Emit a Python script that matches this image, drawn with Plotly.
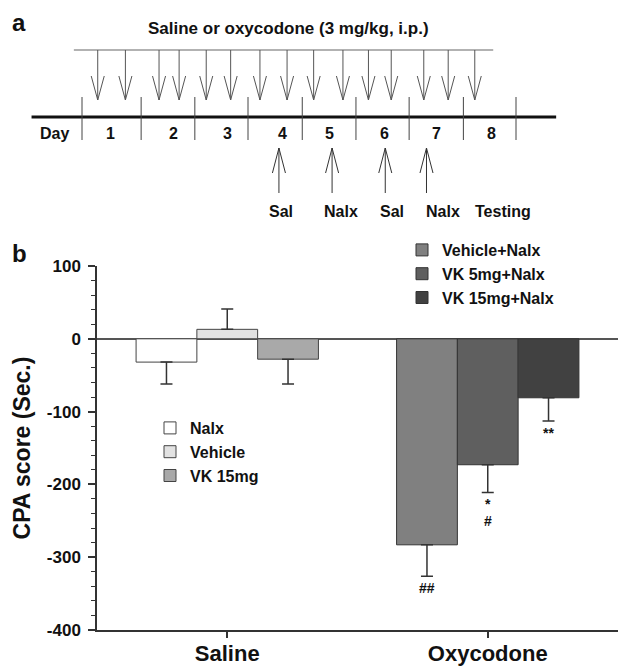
import plotly.graph_objects as go

# ---------------- panel b data ----------------
categories = ["Saline", "Oxycodone"]
saline_groups = ["Nalx", "Vehicle", "VK 15mg"]
saline_means = [-32, 13, -28]
saline_sem = [30, 28, 34]
oxy_groups = ["Vehicle+Nalx", "VK 5mg+Nalx", "VK 15mg+Nalx"]
oxy_means = [-283, -173, -81]
oxy_sem = [43, 38, 32]
oxy_sig = [["##"], ["*", "#"], ["**"]]
y_ticks = [100, 0, -100, -200, -300, -400]
y_ticktext = ["100", "0", "-100", "-200", "-300", "-400"]

saline_colors = ["#ffffff", "#e2e2e2", "#a9a9a9"]
oxy_colors = ["#808080", "#5f5f5f", "#414141"]

# ---------------- panel a schematic (days) ----------------
day_edges = [0, 1.09, 2.08, 3.06, 4.06, 5.05, 6.03, 7.03, 8.0]
day_numbers = ["1", "2", "3", "4", "5", "6", "7", "8"]
day_number_pos = [0.52, 1.68, 2.69, 3.69, 4.57, 5.57, 6.53, 7.54]
injection_times = [0.29, 0.80, 1.42, 1.79, 2.29, 2.74, 3.28, 3.78,
                   4.27, 4.81, 5.28, 5.70, 6.30, 6.75, 7.24]
challenge_times = [3.63, 4.61, 5.59, 6.35]
challenge_labels = ["Sal", "Nalx", "Sal", "Nalx", "Testing"]
challenge_label_pos = [3.67, 4.77, 5.71, 6.65, 7.76]
injection_span = [-0.15, 7.58]
timeline_span = [-0.93, 8.74]

FONT = "Liberation Sans, Arial, sans-serif"
W, H = 618, 666

fig = go.Figure()

# ---------- panel b bars ----------
for i, (g, m, e) in enumerate(zip(saline_groups, saline_means, saline_sem)):
    fig.add_trace(go.Bar(
        x=[categories[0]], y=[m], name=g, offsetgroup=str(i),
        marker=dict(color=saline_colors[i], line=dict(color="#444", width=1)),
        error_y=dict(type="data", symmetric=False,
                     array=[e if m > 0 else 0], arrayminus=[e if m < 0 else 0],
                     color="#333", thickness=1.5, width=6),
        legend="legend", hoverinfo="skip"))
for i, (g, m, e) in enumerate(zip(oxy_groups, oxy_means, oxy_sem)):
    fig.add_trace(go.Bar(
        x=[categories[1]], y=[m], name=g, offsetgroup=str(i),
        marker=dict(color=oxy_colors[i], line=dict(color="#333", width=1)),
        error_y=dict(type="data", symmetric=False,
                     array=[e if m > 0 else 0], arrayminus=[e if m < 0 else 0],
                     color="#333", thickness=1.5, width=6),
        legend="legend2", hoverinfo="skip"))

# significance marks under the oxycodone bars
bar_w_px = (W - 97) / 2.0 * (0.7 / 3)
annotations = []
for i, (m, e, marks) in enumerate(zip(oxy_means, oxy_sem, oxy_sig)):
    for j, s in enumerate(marks):
        annotations.append(dict(
            x=categories[1], y=m - e, xref="x", yref="y",
            text=s, showarrow=False, yanchor="top",
            xshift=(i - 1) * bar_w_px, yshift=-2 - 17 * j,
            font=dict(family=FONT, size=14, color="#111", weight="bold")))


# ---------- panel a schematic ----------
def arrows(times, y_tail, y_tip, y_head, half):
    xs, ys = [], []
    for t in times:
        xs += [t, t, None, t - half, t, t + half, None]
        ys += [y_tail, y_tip, None, y_head, y_tip, y_head, None]
    return xs, ys


ROW_TOP, ROW_DTIP, ROW_DHEAD = 50, 100, 76
ROW_LINE, ROW_TICK0, ROW_TICK1, ROW_DAY = 117, 97, 140, 133
ROW_UTAIL, ROW_UTIP, ROW_UHEAD, ROW_LAB = 193, 148, 173, 211

fig.add_trace(go.Scatter(x=injection_span, y=[ROW_TOP, ROW_TOP], mode="lines",
                         line=dict(color="#999", width=1.5), xaxis="x2", yaxis="y2",
                         showlegend=False, hoverinfo="skip"))
dx, dy = arrows(injection_times, ROW_TOP, ROW_DTIP, ROW_DHEAD, 0.12)
fig.add_trace(go.Scatter(x=dx, y=dy, mode="lines", line=dict(color="#555", width=1),
                         xaxis="x2", yaxis="y2", showlegend=False, hoverinfo="skip"))
fig.add_trace(go.Scatter(x=timeline_span, y=[ROW_LINE, ROW_LINE], mode="lines",
                         line=dict(color="#111", width=3), xaxis="x2", yaxis="y2",
                         showlegend=False, hoverinfo="skip"))
tx, ty = [], []
for d in day_edges:
    tx += [d, d, None]
    ty += [ROW_TICK0, ROW_TICK1, None]
fig.add_trace(go.Scatter(x=tx, y=ty, mode="lines", line=dict(color="#444", width=1),
                         xaxis="x2", yaxis="y2", showlegend=False, hoverinfo="skip"))
ux, uy = arrows(challenge_times, ROW_UTAIL, ROW_UTIP, ROW_UHEAD, 0.12)
fig.add_trace(go.Scatter(x=ux, y=uy, mode="lines", line=dict(color="#333", width=1),
                         xaxis="x2", yaxis="y2", showlegend=False, hoverinfo="skip"))

txtfont = dict(family=FONT, size=16, color="#111", weight="bold")
annotations.append(dict(x=-0.5, y=ROW_DAY, xref="x2", yref="y2", text="Day",
                        showarrow=False, font=txtfont))
for p, s in zip(day_number_pos, day_numbers):
    annotations.append(dict(x=p, y=ROW_DAY, xref="x2", yref="y2", text=s,
                            showarrow=False, font=txtfont))
for p, s in zip(challenge_label_pos, challenge_labels):
    annotations.append(dict(x=p, y=ROW_LAB, xref="x2", yref="y2", text=s,
                            showarrow=False, font=txtfont))
annotations.append(dict(x=sum(injection_span) / 2 + 0.1, y=28, xref="x2", yref="y2",
                        text="Saline or oxycodone (3 mg/kg, i.p.)", showarrow=False,
                        font=dict(family=FONT, size=17, color="#111", weight="bold")))
annotations.append(dict(x=19 / W, y=1 - 23 / H, xref="paper", yref="paper", text="a",
                        showarrow=False, xanchor="center", yanchor="middle",
                        font=dict(family=FONT, size=24, color="#111", weight="bold")))
annotations.append(dict(x=19 / W, y=1 - 253 / H, xref="paper", yref="paper", text="b",
                        showarrow=False, xanchor="center", yanchor="middle",
                        font=dict(family=FONT, size=24, color="#111", weight="bold")))

px_per_day = 54.25
day0_px = 82

fig.update_layout(
    width=W, height=H,
    margin=dict(l=0, r=0, t=0, b=0),
    paper_bgcolor="white", plot_bgcolor="rgba(0,0,0,0)",
    barmode="group", bargap=0.3, bargroupgap=0,
    font=dict(family=FONT, color="#111"),
    annotations=annotations,
    xaxis=dict(domain=[97 / W, 1], range=[-0.5, 1.5], type="category",
               showline=True, linecolor="#333", linewidth=1.5,
               ticks="outside", ticklen=6, tickwidth=1.5, tickcolor="#333",
               showgrid=False, zeroline=False, automargin=False,
               ticklabelstandoff=-3,
               tickfont=dict(family=FONT, size=22, color="#111", weight="bold")),
    yaxis=dict(domain=[36 / H, 400 / H], range=[-400, 100],
               tickvals=y_ticks, ticktext=y_ticktext,
               showline=True, linecolor="#333", linewidth=1.5,
               ticks="outside", ticklen=7, tickwidth=1.5, tickcolor="#333",
               minor=dict(dtick=20, ticks="outside", ticklen=4, tickwidth=1, tickcolor="#333",
                          showgrid=False),
               showgrid=False, zeroline=True, zerolinecolor="#555", zerolinewidth=1.5,
               automargin=False, ticklabelstandoff=4,
               tickfont=dict(family=FONT, size=17, color="#111", weight="bold"),
               title=dict(text="CPA score (Sec.)", standoff=10,
                          font=dict(family=FONT, size=23, color="#111", weight="bold"))),
    xaxis2=dict(domain=[0, 1], range=[-day0_px / px_per_day, (W - day0_px) / px_per_day],
                visible=False, anchor="y2"),
    yaxis2=dict(domain=[1 - 240 / H, 1], range=[240, 0], visible=False, anchor="x2"),
    legend=dict(x=150 / W, y=1 - 411 / H, xanchor="left", yanchor="top",
                bgcolor="rgba(0,0,0,0)", borderwidth=0, tracegroupgap=0,
                font=dict(family=FONT, size=16, color="#111", weight="bold")),
    legend2=dict(x=402 / W, y=1 - 233 / H, xanchor="left", yanchor="top",
                 bgcolor="rgba(0,0,0,0)", borderwidth=0, tracegroupgap=0,
                 font=dict(family=FONT, size=16, color="#111", weight="bold")),
)

fig.write_html("out.html", config={"displayModeBar": False},
               post_script="document.body.style.margin='0';document.body.style.overflow='hidden';")
